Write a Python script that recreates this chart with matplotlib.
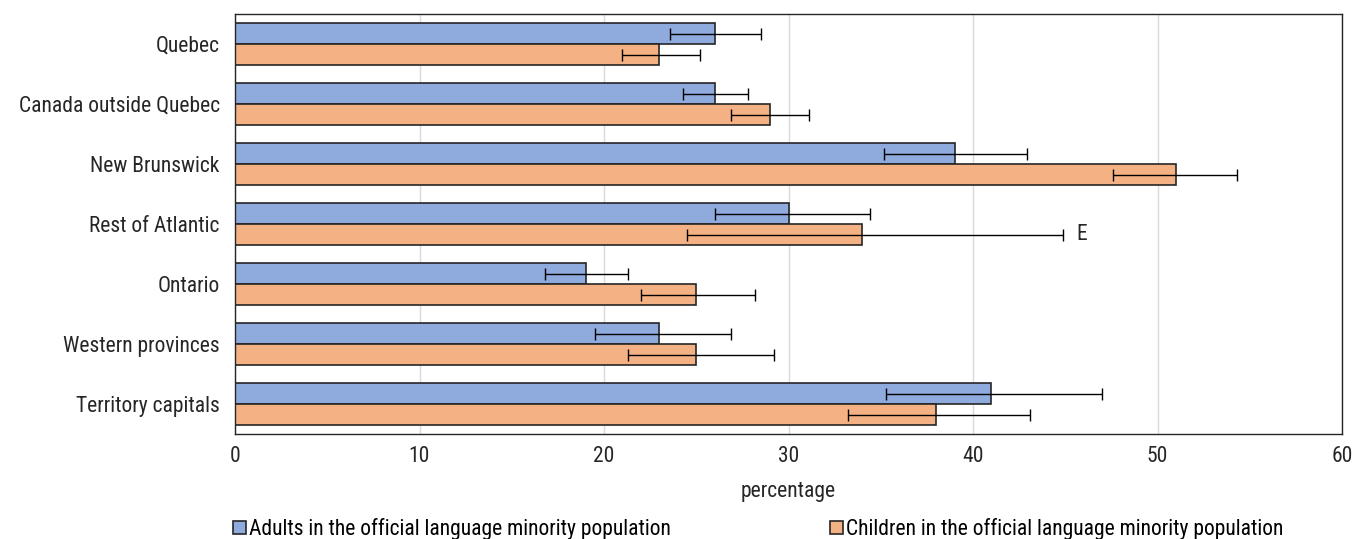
import matplotlib
matplotlib.use("Agg")
import matplotlib.pyplot as plt
import numpy as np

plt.rcParams['font.family'] = ['Roboto Condensed', 'Roboto', 'DejaVu Sans']

regions = ["Quebec", "Canada outside Quebec", "New Brunswick", "Rest of Atlantic",
           "Ontario", "Western provinces", "Territory capitals"]

adults = [26, 26, 39, 30, 19, 23, 41]
adults_lo = [23.6, 24.3, 35.2, 26.0, 16.8, 19.5, 35.3]
adults_hi = [28.5, 27.8, 42.9, 34.4, 21.3, 26.9, 47.0]

children = [23, 29, 51, 34, 25, 25, 38]
children_lo = [21.0, 26.9, 47.6, 24.5, 22.0, 21.3, 33.2]
children_hi = [25.2, 31.1, 54.3, 44.9, 28.2, 29.2, 43.1]

# "E" = use with caution
flags = ["", "", "", "E", "", "", ""]

blue = "#8faadc"
orange = "#f4b183"
edge = "#262626"
fs = 15.5

fig = plt.figure(figsize=(13.52, 5.39), dpi=100)
ax = fig.add_axes([235 / 1352, 105 / 539, 1107 / 1352, 420 / 539])

y = np.arange(len(regions))
h = 0.35

a = np.array(adults)
c = np.array(children)
a_err = [a - np.array(adults_lo), np.array(adults_hi) - a]
c_err = [c - np.array(children_lo), np.array(children_hi) - c]

ax.barh(y - h / 2, adults, height=h, color=blue, edgecolor=edge, linewidth=1.2,
        label="Adults in the official language minority population", zorder=2)
ax.barh(y + h / 2, children, height=h, color=orange, edgecolor=edge, linewidth=1.2,
        label="Children in the official language minority population", zorder=2)

ax.errorbar(adults, y - h / 2, xerr=a_err, fmt="none", ecolor="black",
            elinewidth=1, capsize=4, capthick=1, zorder=3)
ax.errorbar(children, y + h / 2, xerr=c_err, fmt="none", ecolor="black",
            elinewidth=1, capsize=4, capthick=1, zorder=3)

for i, f in enumerate(flags):
    if f:
        ax.text(children_hi[i] + 0.7, y[i] + h / 2, f, va="center", ha="left",
                fontsize=fs, color="#262626")

ax.set_yticks(y)
ax.set_yticklabels(regions, fontsize=fs, color="#262626")
ax.set_ylim(len(regions) - 0.5, -0.5)
ax.set_xlim(0, 60)
ax.set_xticks(range(0, 61, 10))
ax.tick_params(axis="x", labelsize=fs, colors="#262626", length=0, pad=9)
ax.tick_params(axis="y", length=0, pad=11)
ax.grid(axis="x", color="#d9d9d9", linewidth=1, zorder=0)
ax.set_axisbelow(True)
for s in ax.spines.values():
    s.set_color("#262626")
    s.set_linewidth(1)

ax.set_xlabel("percentage", fontsize=fs, color="#262626", labelpad=10)

fig.legend(loc="center left", bbox_to_anchor=(233 / 1352, 10 / 539), ncol=2, frameon=False,
           fontsize=fs, handlelength=0.6, handleheight=0.6, handletextpad=0.15,
           columnspacing=7.4, borderaxespad=0, borderpad=0)

fig.savefig("out.png", dpi=100)
